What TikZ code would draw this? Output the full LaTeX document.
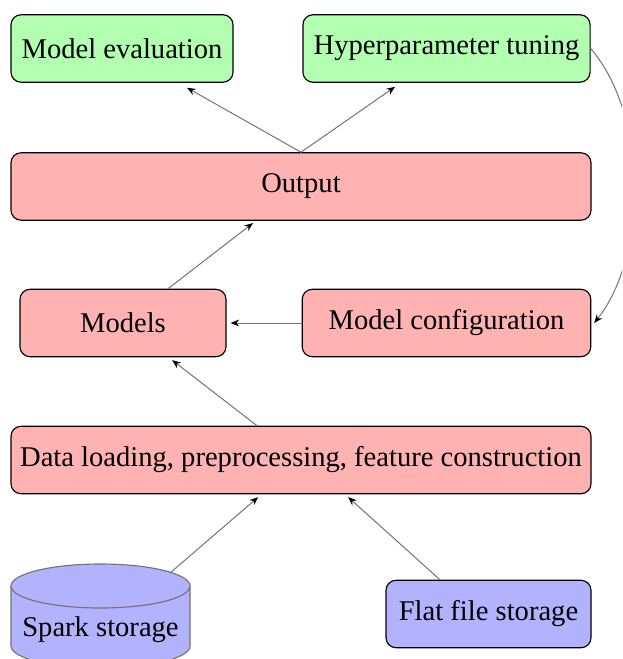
\documentclass[tikz,border=0pt]{standalone}
\usepackage{fontspec}
\setmainfont{Liberation Serif}
\usetikzlibrary{arrows.meta}
\begin{document}
\begin{tikzpicture}[x=0.35pt,y=-0.35pt,
  box/.style={draw=black,line width=0.4pt,rounded corners=3.5pt,inner sep=0pt,minimum height=23.6pt,font=\fontsize{10}{12}\selectfont},
  txt/.style={inner sep=0pt,font=\fontsize{10}{12}\selectfont},
  conn/.style={draw=black!55,line width=0.35pt,-{Stealth[length=3pt,width=2.4pt,black]}}]
\useasboundingbox (0,0) rectangle (622,659);
\clip (0,0) rectangle (622,659);
% nodes
\node[box,fill=green!30,minimum width=77.7pt] (eval) at (122,48.5) {Model evaluation};
\node[box,fill=green!30,minimum width=100.5pt] (hyp) at (446.5,48.5) {Hyperparameter tuning};
\node[box,fill=red!30,minimum width=203pt] (out) at (301,186.5) {Output};
\node[box,fill=red!30,minimum width=72.1pt] (models) at (123,323) {Models};
\node[box,fill=red!30,minimum width=101pt] (cfg) at (446.5,323) {Model configuration};
\node[box,fill=red!30,minimum width=203pt] (data) at (301,460) {Data loading, preprocessing, feature construction};
\node[box,fill=blue!30,minimum width=71.75pt] (flat) at (488.5,614) {Flat file storage};
% cylinder
\path[fill=blue!30,draw=black!55,line width=0.4pt] (11,586) -- (11,646) arc[start angle=180,end angle=0,x radius=89.5,y radius=22] -- (190,586);
\path[fill=blue!30,draw=black!55,line width=0.4pt] (100.5,586) ellipse [x radius=89.5,y radius=22];
\node[txt] (spark) at (100.5,630) {Spark storage};
\coordinate (sparktop) at (170,573);
% connectors
\draw[conn] (out.north) -- ([xshift=22.75pt,yshift=-1.75pt]eval.south);
\draw[conn] (out.north) -- ([xshift=-18pt,yshift=-1.4pt]hyp.south);
\draw[conn] ([xshift=15.75pt]models.north) -- ([xshift=-16.8pt,yshift=-0.8pt]out.south);
\draw[conn] (cfg.west) -- ([xshift=1.4pt]models.east);
\draw[conn] ([xshift=-15.4pt]data.north) -- ([xshift=17.2pt,yshift=-1pt]models.south);
\draw[conn] (sparktop) -- ([xshift=-15pt,yshift=-1pt]data.south);
\draw[conn] ([xshift=-17pt]flat.north) -- ([xshift=16.5pt,yshift=-1pt]data.south);
\draw[conn] (hyp.east) .. controls (648,115) and (648,255) .. ([xshift=1pt]cfg.east);
\end{tikzpicture}
\end{document}
